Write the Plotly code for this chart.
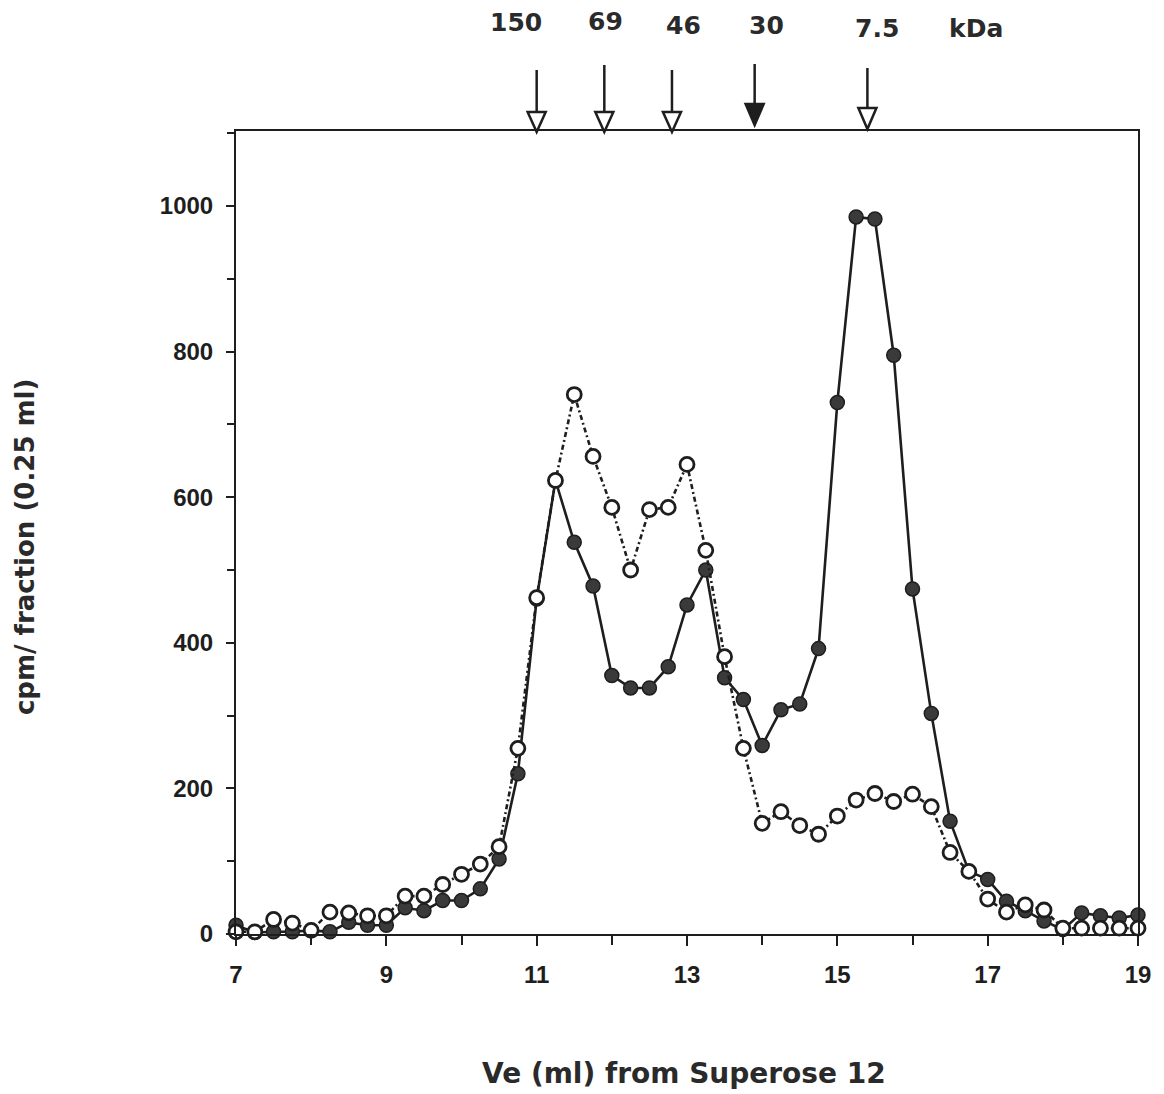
import plotly.graph_objects as go

# Elution volume (ml) of each 0.25 ml fraction
ve = [7.0 + 0.25 * i for i in range(49)]

# filled circles (solid line)
cpm_filled = [12, 2, 3, 3, 5, 3, 16, 12, 12, 36, 32, 46, 46, 62, 103, 220,
              460, 623, 538, 478, 355, 338, 338, 367, 452, 500, 352, 322,
              259, 308, 316, 392, 730, 985, 982, 795, 474, 303, 155, 86,
              75, 45, 32, 18, 6, 29, 25, 22, 26]

# open circles (dashed line)
cpm_open = [3, 3, 20, 15, 5, 30, 29, 25, 25, 52, 52, 68, 82, 96, 120, 255,
            462, 623, 741, 656, 586, 500, 583, 586, 645, 527, 381, 255,
            152, 168, 149, 137, 162, 184, 193, 182, 192, 175, 112, 86,
            48, 30, 40, 33, 8, 8, 8, 8, 8]

# molecular weight markers
marker_ve = [11.0, 11.9, 12.8, 13.9, 15.4]
marker_labels = ["150", "69", "46", "30", "7.5"]

x_ticks = [7, 9, 11, 13, 15, 17, 19]
y_ticks = [0, 200, 400, 600, 800, 1000]

FONT = "Liberation Sans, Arial, sans-serif"
WIDE = "DejaVu Sans, Liberation Sans, sans-serif"
INK = "#1e1e1e"

fig = go.Figure()
fig.add_trace(go.Scatter(
    x=ve, y=cpm_filled, mode="lines+markers",
    line=dict(color=INK, width=2.6),
    marker=dict(symbol="circle", size=14, color="#3a3a3a",
                line=dict(color=INK, width=1.5)),
    cliponaxis=False, showlegend=False))
fig.add_trace(go.Scatter(
    x=ve, y=cpm_open, mode="lines+markers",
    line=dict(color=INK, width=2.6, dash="5px,3px,2px,3px"),
    marker=dict(symbol="circle", size=14, color="white",
                line=dict(color=INK, width=2.8)),
    cliponaxis=False, showlegend=False))

axis_common = dict(showline=True, linecolor=INK, linewidth=2,
                   mirror=True, showgrid=False, zeroline=False,
                   ticks="outside", tickcolor=INK, tickwidth=2,
                   tickfont=dict(family=FONT, size=24, color=INK, weight="bold"))

fig.update_layout(
    width=1164, height=1094,
    margin=dict(l=228, r=34, t=123, b=168),
    paper_bgcolor="white", plot_bgcolor="white",
    xaxis=dict(range=[7, 19], tickvals=x_ticks, ticklen=10, ticklabelstandoff=8,
               minor=dict(dtick=1, ticks="outside", ticklen=9,
                          tickcolor=INK, tickwidth=2),
               **axis_common),
    yaxis=dict(range=[0, 1103], tickvals=y_ticks, ticklen=8, ticklabelstandoff=8,
               minor=dict(dtick=100, ticks="outside", ticklen=7,
                          tickcolor=INK, tickwidth=2),
               **axis_common),
)

# axis titles
fig.add_annotation(text="<b>cpm/ fraction (0.25 ml)</b>", xref="paper", yref="paper",
                   x=-0.234, y=0.483, xanchor="center", yanchor="middle",
                   textangle=-90, showarrow=False,
                   font=dict(family=WIDE, size=26, color="#2a2a2a"))
fig.add_annotation(text="<b>Ve (ml) from Superose 12</b>", xref="paper", yref="paper",
                   x=0.497, y=-0.174, xanchor="center", yanchor="middle",
                   showarrow=False,
                   font=dict(family=WIDE, size=28, color="#2a2a2a"))

# molecular weight marker arrows (page-pixel helper relative to plot top at 131 px)
ph = 803.0
def py(px_from_top):
    return 1 + (131 - px_from_top) / ph

arrow_top = [70, 65, 70, 64, 68]
head_top = [112, 112, 112, 104, 108]
head_tip = [132, 132, 132, 125, 129]
head_fill = ["white", "white", "white", INK, "white"]
label_dx = [-0.27, 0.01, 0.16, 0.16, 0.13]
label_y = [23, 22, 26, 26, 29]

for xv, top, ht, tip, fill in zip(marker_ve, arrow_top, head_top, head_tip, head_fill):
    fig.add_shape(type="line", xref="x", yref="paper", x0=xv, x1=xv,
                  y0=py(top), y1=py(ht + 4), line=dict(color=INK, width=2.5))
    w = 0.12
    fig.add_shape(type="path", xref="x", yref="paper",
                  path=f"M {xv - w} {py(ht)} L {xv + w} {py(ht)} L {xv} {py(tip)} Z",
                  fillcolor=fill, line=dict(color=INK, width=2.5))

for xv, dx, ly, lab in zip(marker_ve, label_dx, label_y, marker_labels):
    fig.add_annotation(text=f"<b>{lab}</b>", xref="x", yref="paper", x=xv + dx, y=py(ly),
                       xanchor="center", yanchor="middle", showarrow=False,
                       font=dict(family=WIDE, size=25, color="#2a2a2a"))
fig.add_annotation(text="<b>kDa</b>", xref="x", yref="paper", x=16.85, y=py(29),
                   xanchor="center", yanchor="middle", showarrow=False,
                   font=dict(family=WIDE, size=25, color="#2a2a2a"))

fig.write_html("out.html")
